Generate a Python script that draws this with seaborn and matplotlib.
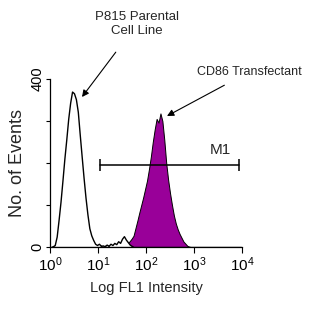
import numpy as np
import pandas as pd
import matplotlib
matplotlib.use("Agg")
import matplotlib.pyplot as plt
import seaborn as sns

# ---- data ----
bin_width = 0.04  # decades per histogram channel
parental_start = 0.02  # log10 centre of first channel
parental_counts = [0, 2, 5, 25, 65, 108, 158, 210, 256, 305, 343, 370, 366, 352,
                   322, 268, 216, 165, 118, 78, 45, 28, 17, 8, 5, 8, 3, 4, 2, 6,
                   3, 8, 5, 10, 7, 14, 10, 20, 26, 18, 12, 6, 3, 0]
cd86_start = 1.02
cd86_counts = [2, 4, 1, 3, 5, 3, 6, 4, 8, 6, 10, 8, 12, 10, 14, 10, 14, 20, 27,
               45, 63, 82, 100, 118, 138, 158, 185, 215, 250, 280, 305, 296,
               318, 300, 255, 200, 160, 128, 100, 75, 56, 42, 31, 22, 13, 8,
               3, 1, 0]
gate_label = "M1"
gate_range = (10 ** 1.04, 10 ** 3.94)
gate_level = 195
x_ticks = [1, 10, 100, 1000, 10000]
x_ticklabels = [r"$\mathregular{10^0}$", r"$\mathregular{10^1}$", r"$\mathregular{10^2}$",
                r"$\mathregular{10^3}$", r"$\mathregular{10^4}$"]
y_ticks = [0, 100, 200, 300, 400]
y_ticklabels = ["0", "", "", "", "400"]

par = pd.DataFrame({
    "log": [parental_start + i * bin_width for i in range(len(parental_counts))],
    "n": parental_counts})
par["x"] = 10 ** par["log"]
cd = pd.DataFrame({
    "log": [cd86_start + i * bin_width for i in range(len(cd86_counts))],
    "n": cd86_counts})
cd["x"] = 10 ** cd["log"]

sns.set_theme(style="ticks")
fam = ["Liberation Sans", "DejaVu Sans"]
plt.rcParams["font.family"] = fam
plt.rcParams["mathtext.fontset"] = "custom"
plt.rcParams["mathtext.rm"] = "Liberation Sans"
plt.rcParams["mathtext.it"] = "Liberation Sans"

fig = plt.figure(figsize=(3.12, 3.12), dpi=100)
ax = fig.add_axes([0.160, 0.208, 0.616, 0.539])

sns.histplot(data=cd, x="x", weights="n", log_scale=True, binwidth=bin_width,
             binrange=(0, 4), element="poly", fill=True, color="#990099",
             alpha=1, edgecolor="black", linewidth=0.7, ax=ax)
sns.histplot(data=par, x="x", weights="n", log_scale=True, binwidth=bin_width,
             binrange=(0, 4), element="poly", fill=True, color="white",
             alpha=1, edgecolor="black", linewidth=1.0, ax=ax)

ax.set_xlim(1, 10000)
ax.set_ylim(0, 400)
ax.set_xticks(x_ticks)
ax.set_xticklabels(x_ticklabels, fontsize=11)
ax.set_yticks(y_ticks)
ax.set_yticklabels(y_ticklabels, fontsize=10.5, rotation=90, va="center")
ax.tick_params(axis="x", direction="out", length=4, width=0.8, colors="black", pad=2)
ax.tick_params(axis="y", direction="out", length=3, width=0.8, colors="black", pad=1)
ax.tick_params(axis="x", which="minor", direction="out", length=2, width=0.6)
for s in ["top", "right"]:
    ax.spines[s].set_visible(False)
for s in ["left", "bottom"]:
    ax.spines[s].set_linewidth(0.9)
    ax.spines[s].set_color("black")
ax.set_xlabel("Log FL1 Intensity", fontsize=10.5, labelpad=5)
ax.set_ylabel("No. of Events", fontsize=13)
ax.yaxis.set_label_coords(-0.125, 0.5)

# gate M1
ax.plot(gate_range, [gate_level, gate_level], color="black", lw=1.1)
ax.vlines(gate_range, gate_level - 14, gate_level + 14, color="black", lw=1.1)
ax.text(10 ** 3.55, gate_level + 20, gate_label, ha="center", va="bottom", fontsize=11)

# annotations
ax.annotate("P815 Parental\nCell Line", xy=(82 / 312, 1 - 97 / 312), xycoords="figure fraction",
            xytext=(137 / 312, 1 - 24 / 312), textcoords="figure fraction",
            ha="center", va="center", fontsize=9.5, linespacing=1.15,
            arrowprops=dict(arrowstyle="-|>", color="black", lw=0.8, mutation_scale=10,
                            shrinkA=11, shrinkB=0))
ax.annotate("CD86 Transfectant", xy=(167 / 312, 1 - 116 / 312), xycoords="figure fraction",
            xytext=(249 / 312, 1 - 72 / 312), textcoords="figure fraction",
            ha="center", va="center", fontsize=9,
            arrowprops=dict(arrowstyle="-|>", color="black", lw=0.8, mutation_scale=10,
                            shrinkA=6, shrinkB=0))

fig.savefig("out.png", dpi=100, facecolor="white")
